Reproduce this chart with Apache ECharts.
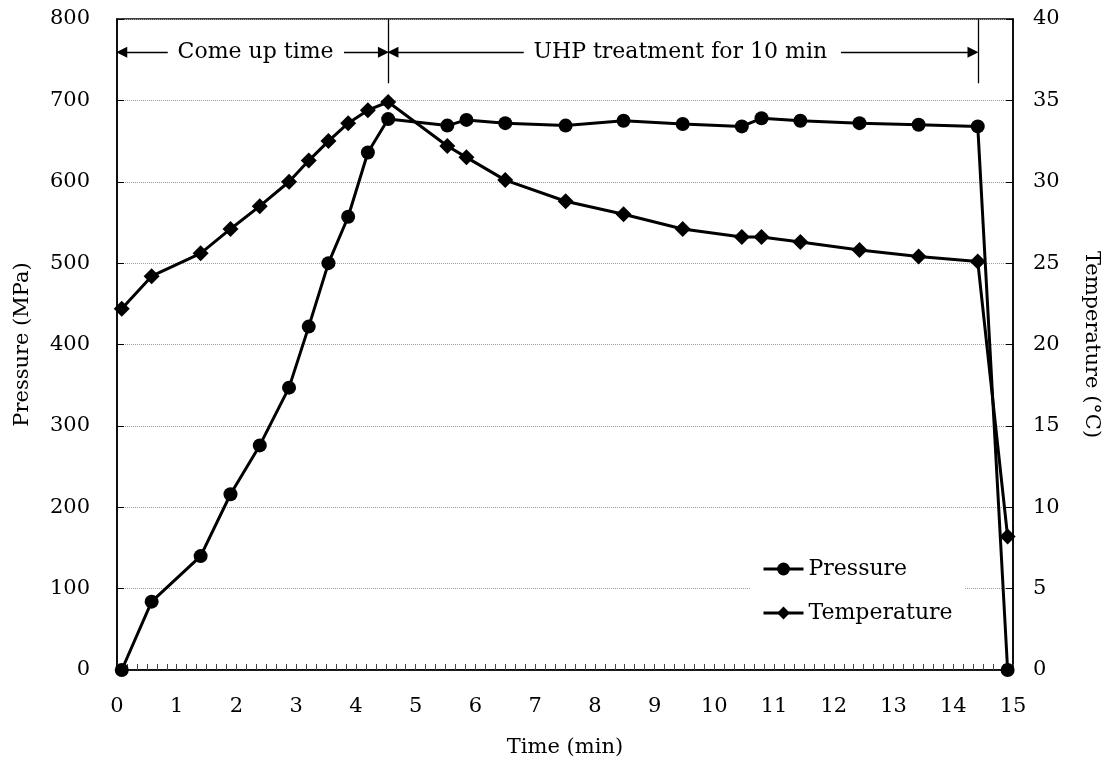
<!DOCTYPE html>
<html>
<head>
<meta charset="utf-8">
<title>Pressure and temperature during UHP treatment</title>
<script src="https://cdn.jsdelivr.net/npm/echarts@6/dist/echarts.min.js"></script>
<style>
  html, body { margin: 0; padding: 0; background: #fff; }
  #chart { width: 1110px; height: 763px; }
</style>
</head>
<body>
<div id="chart"></div>
<script>
// Sampling times (min)
const timeMin = [0.08, 0.58, 1.40, 1.90, 2.39, 2.88, 3.21, 3.54, 3.87, 4.20, 4.54,
  5.53, 5.85, 6.50, 7.51, 8.48, 9.47, 10.46, 10.79, 11.44, 12.43, 13.42, 14.41, 14.91];
// Vessel pressure (MPa)
const pressure = [0, 84, 140, 216, 276, 347, 422, 500, 557, 636, 677,
  669, 676, 672, 669, 675, 671, 668, 678, 675, 672, 670, 668, 0];
// Medium temperature (°C)
const temperature = [22.2, 24.2, 25.6, 27.1, 28.5, 30.0, 31.3, 32.5, 33.6, 34.4, 34.9,
  32.2, 31.5, 30.1, 28.8, 28.0, 27.1, 26.6, 26.6, 26.3, 25.8, 25.4, 25.1, 8.2];

// Phase boundaries (min) and phase labels
const holdStart = 4.54;
const holdEnd = 14.41;
const phaseLabels = ['Come up time', 'UHP treatment for 10 min'];
const phaseLabelTimes = [2.32, 9.43];

const FONT = 'DejaVu Serif';
const arrowY = 759;   // pressure-axis level of the phase arrows
const tickTop = 721;  // lower end of the phase boundary lines
const headHalf = 0.08; // half an arrow head, in minutes, so the tip meets its target

const pair = (t, p) => [t, p];
const pressureData = timeMin.map((t, i) => pair(t, pressure[i]));
const temperatureData = timeMin.map((t, i) => pair(t, temperature[i]));

// Arrow whose tip touches tTip, drawn from tTail
const arrow = (tTip, tTail) => {
  const dir = tTail > tTip ? 1 : -1;
  return [
    { coord: [tTip + dir * headHalf, arrowY], symbol: 'triangle' },
    { coord: [tTail, arrowY], symbol: 'none' }
  ];
};
const boundary = (t) => [
  { coord: [t, 800], symbol: 'none' },
  { coord: [t, tickTop], symbol: 'none' }
];

const chart = echarts.init(document.getElementById('chart'), null, { renderer: 'canvas' });

const axisText = { fontFamily: FONT, fontSize: 21, color: '#000' };

chart.setOption({
  animation: false,
  backgroundColor: '#fff',
  textStyle: { fontFamily: FONT },
  grid: {
    left: 117, right: 95, top: 19, bottom: 93,
    show: true, borderColor: '#000', borderWidth: 1.5, backgroundColor: 'transparent'
  },
  legend: {
    orient: 'vertical',
    left: 750, top: 546,
    padding: [12, 12, 12, 12],
    backgroundColor: '#fff',
    itemWidth: 40, itemHeight: 16, itemGap: 22,
    lineStyle: { width: 3 },
    textStyle: { fontFamily: FONT, fontSize: 22, color: '#000', padding: [0, 0, 0, 0] },
    data: ['Pressure', 'Temperature']
  },
  xAxis: {
    type: 'value', min: 0, max: 15, interval: 1,
    name: 'Time (min)', nameLocation: 'middle', nameGap: 67,
    nameTextStyle: axisText,
    axisLine: { show: true, lineStyle: { color: '#000', width: 1.5 } },
    axisTick: { show: true, inside: true, length: 6, lineStyle: { color: '#444', width: 1 } },
    minorTick: { show: true, splitNumber: 6, length: 6, lineStyle: { color: '#444', width: 1 } },
    axisLabel: { ...axisText, margin: 26 },
    splitLine: { show: false }
  },
  yAxis: [{
    type: 'value', min: 0, max: 800, interval: 100, position: 'left',
    name: 'Pressure (MPa)', nameLocation: 'middle', nameGap: 84, nameRotate: 90,
    nameTextStyle: axisText,
    axisLine: { show: true, lineStyle: { color: '#000', width: 1.5 } },
    axisTick: { show: true, inside: true, length: 7, lineStyle: { color: '#000', width: 1 } },
    axisLabel: { ...axisText, margin: 27 },
    splitLine: { show: true, lineStyle: { color: '#9a9a9a', width: 1, type: [1, 1] } }
  }, {
    type: 'value', min: 0, max: 40, interval: 5, position: 'right',
    name: 'Temperature (°C)', nameLocation: 'middle', nameGap: 68, nameRotate: -90,
    nameTextStyle: axisText,
    axisLine: { show: true, lineStyle: { color: '#000', width: 1.5 } },
    axisTick: { show: true, inside: true, length: 7, lineStyle: { color: '#000', width: 1 } },
    axisLabel: { ...axisText, margin: 20 },
    splitLine: { show: false }
  }],
  series: [{
    name: 'Pressure',
    type: 'line',
    yAxisIndex: 0,
    data: pressureData,
    symbol: 'circle', symbolSize: 14,
    lineStyle: { color: '#000', width: 3 },
    itemStyle: { color: '#000' },
    z: 3,
    markLine: {
      silent: true,
      symbolSize: 11,
      label: { show: false },
      lineStyle: { color: '#000', width: 1.3, type: 'solid' },
      emphasis: { disabled: true },
      data: [
        arrow(0, 0.85),
        arrow(holdStart, 3.80),
        arrow(holdStart, 6.81),
        arrow(holdEnd, 12.12),
        boundary(holdStart),
        boundary(holdEnd)
      ]
    },
    markPoint: {
      silent: true,
      symbol: 'circle', symbolSize: 0,
      itemStyle: { color: 'transparent' },
      label: { show: true, position: 'inside', fontFamily: FONT, fontSize: 22, color: '#000',
        formatter: (p) => p.name },
      data: phaseLabels.map((txt, i) => ({ name: txt, coord: [phaseLabelTimes[i], arrowY] }))
    }
  }, {
    name: 'Temperature',
    type: 'line',
    yAxisIndex: 1,
    data: temperatureData,
    symbol: 'diamond', symbolSize: 16,
    lineStyle: { color: '#000', width: 3 },
    itemStyle: { color: '#000' },
    z: 3
  }]
});
</script>
</body>
</html>
